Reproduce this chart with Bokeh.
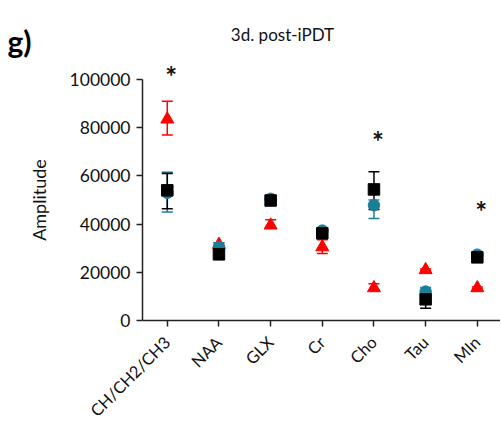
import numpy as np
from bokeh.plotting import figure
from bokeh.models import (ColumnDataSource, Whisker, TeeHead, FixedTicker, Label,
                          Range1d, BasicTickFormatter)
from bokeh.embed import file_html
from bokeh.resources import INLINE

# ---------------- data ----------------
categories = ["CH/CH2/CH3", "NAA", "GLX", "Cr", "Cho", "Tau", "MIn"]

red_mean  = [83500, 31500, 39500, 30500, 13500, 21000, 13500]
red_lo    = [77000, 30800, 38300, 27800, 12600, 20600, 13100]
red_hi    = [91000, 32200, 41800, 33500, 15300, 21400, 13900]

teal_mean = [53000, 30500, 50500, 37300, 47800, 12000, 27300]
teal_lo   = [45000, 28700, 49700, 36600, 42300, 10400, 26700]
teal_hi   = [61500, 32300, 51300, 38000, 50000, 13700, 27900]

blk_mean  = [54000, 27500, 49800, 36200, 54400, 8800, 26200]
blk_lo    = [46400, 25300, 49000, 35400, 46100, 5100, 25600]
blk_hi    = [61000, 29500, 50600, 37000, 61700, 11700, 26800]

star_cat  = [0, 4, 6]
star_y    = [102500, 75800, 46800]

yticks = [0, 20000, 40000, 60000, 80000, 100000]

FONT = "Lato"
RED = "#ff0000"
TEAL = "#1a7f96"
BLK = "#000000"
AX = "#222222"

x = list(range(len(categories)))

W, H = 500, 424
X0, X1 = -0.48, 6.449        # axis extent (category units)
XL = -3.228                  # frame extends left of the y axis
YT, YB = 132780, -43150      # frame extends above / below the axes

p = figure(width=W, height=H, output_backend="svg", toolbar_location=None,
           x_range=Range1d(XL, X1), y_range=Range1d(YB, YT),
           min_border_left=0, min_border_right=0, min_border_top=0,
           min_border_bottom=0)
p.outline_line_color = None
p.xgrid.grid_line_color = None
p.ygrid.grid_line_color = None
p.background_fill_color = "white"
p.border_fill_color = "white"

def series(mean, lo, hi, color, marker, size):
    src = ColumnDataSource(dict(x=x, y=mean, lo=lo, hi=hi))
    w = Whisker(base="x", upper="hi", lower="lo", source=src,
                line_color=color, line_width=1.5,
                upper_head=TeeHead(size=11, line_color=color, line_width=1.5),
                lower_head=TeeHead(size=11, line_color=color, line_width=1.5))
    p.add_layout(w)
    p.scatter("x", "y", source=src, marker=marker, size=size,
              fill_color=color, line_color=color)

series(red_mean, red_lo, red_hi, RED, "triangle", 13)
series(teal_mean, teal_lo, teal_hi, TEAL, "circle", 11.5)
series(blk_mean, blk_lo, blk_hi, BLK, "square", 11.5)

# asterisks
for sx, sy in zip(star_cat, star_y):
    p.add_layout(Label(x=sx, y=sy, text="*", text_font=FONT,
                       text_font_size="28px", text_font_style="bold",
                       text_align="center", text_baseline="middle",
                       x_offset=4, y_offset=-3, text_color="#111111"))

# axes
p.xaxis.ticker = FixedTicker(ticks=x)
p.xaxis.major_label_overrides = {i: c for i, c in enumerate(categories)}
p.xaxis.major_label_orientation = np.pi / 4
p.xaxis.major_label_standoff = 13
p.xaxis.bounds = (X0, X1)
p.xaxis.fixed_location = 0

p.yaxis.ticker = FixedTicker(ticks=yticks)
p.yaxis.formatter = BasicTickFormatter(use_scientific=False)
p.yaxis.axis_label = "Amplitude"
p.yaxis.bounds = (0, 100000)
p.yaxis.fixed_location = X0

for ax in (p.xaxis[0], p.yaxis[0]):
    ax.axis_line_color = AX
    ax.axis_line_width = 1.5
    ax.major_tick_line_color = AX
    ax.major_tick_line_width = 1.5
    ax.major_tick_out = 6
    ax.major_tick_in = 0
    ax.minor_tick_line_color = None
    ax.major_label_text_font = FONT
    ax.major_label_text_color = "#111111"

p.xaxis.major_label_text_font_size = "16.5px"
p.yaxis.major_label_text_font_size = "17.5px"
p.yaxis.major_label_standoff = 6
p.yaxis.axis_label_text_font = FONT
p.yaxis.axis_label_text_font_size = "18px"
p.yaxis.axis_label_text_font_style = "normal"
p.yaxis.axis_label_text_color = "#111111"
p.yaxis.axis_label_standoff = 17

# panel letter and title (screen units: origin at frame bottom-left, y up)
p.add_layout(Label(x=7, y=H - 40, x_units="screen", y_units="screen", text="g)",
                   text_font=FONT, text_font_size="30px", text_font_style="bold",
                   text_baseline="alphabetic", text_color="#000000"))
p.add_layout(Label(x=282, y=H - 34, x_units="screen", y_units="screen",
                   text="3d. post-iPDT", text_font=FONT, text_font_size="17px",
                   text_align="center", text_baseline="alphabetic",
                   text_color="#111111"))

open("out.html", "w").write(file_html(p, INLINE))
